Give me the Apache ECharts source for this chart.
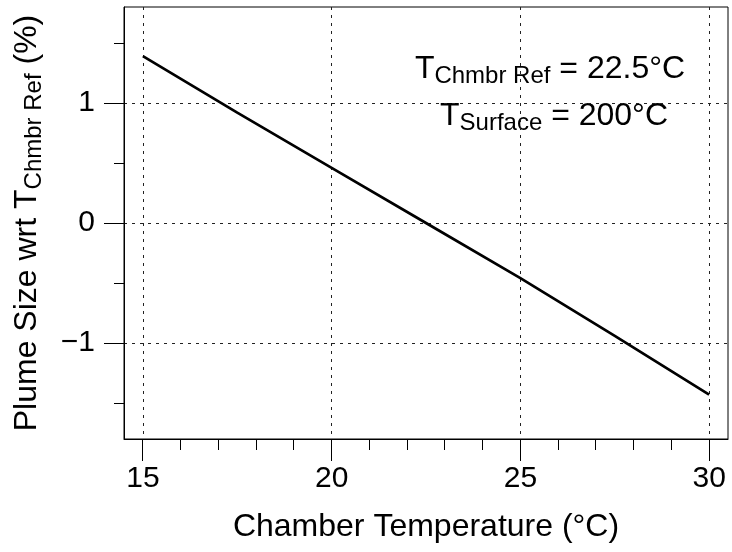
<!DOCTYPE html>
<html style="height: 100%">
<head>
<meta charset="UTF-8" />
<title>Plume size vs chamber temperature</title>
<style>
html, body { margin: 0; padding: 0; background: #ffffff; }
#chartBox { width: 732px; height: 552px; }
</style>
</head>
<body>
	<div id="chartBox"></div>

	<script src="https://cdn.jsdelivr.net/npm/echarts@6/dist/echarts.min.js"></script>
	<script>
		// data
		var chamberTemp = [15, 17.5, 20, 22.5, 25, 27.5, 30];
		var plumeSize = [1.39, 0.92, 0.46, 0, -0.46, -0.94, -1.43];

		var xMajorTicks = [15, 20, 25, 30];
		var xMinorTicks = [16, 17, 18, 19, 21, 22, 23, 24, 26, 27, 28, 29];
		var yMajorTicks = [-1, 0, 1];
		var yMinorTicks = [-1.5, -0.5, 0.5, 1.5];

		var fontName = 'Liberation Sans';
		var tickFont = 30;
		var bigFont = 32;
		var subFont = 24;

		// R style range, 4% padding
		var xMin = 14.5, xMax = 30.5;
		var yMin = -1.8, yMax = 1.8;

		var myChart = echarts.init(document.getElementById('chartBox'));

		var lineData = [];
		for (var i = 0; i < chamberTemp.length; i++) {
			lineData.push([chamberTemp[i], plumeSize[i]]);
		}

		// tick marks: [x, y, length]
		var xTickData = [], yTickData = [];
		xMajorTicks.forEach(function (v) { xTickData.push([v, yMin, 22]); });
		xMinorTicks.forEach(function (v) { xTickData.push([v, yMin, 11]); });
		yMajorTicks.forEach(function (v) { yTickData.push([xMin, v, 20]); });
		yMinorTicks.forEach(function (v) { yTickData.push([xMin, v, 10]); });

		function crisp(p) { return Math.round(p - 0.5) + 0.5; }

		var dotted = { color: '#222', width: 1, type: [3, 5] };

		var richText = {
			m: { fontFamily: fontName, fontSize: bigFont, color: '#000' },
			s: { fontFamily: fontName, fontSize: subFont, color: '#000', padding: [14, 0, 0, 0] }
		};

		option = {
			backgroundColor: '#ffffff',
			animation: false,
			grid: {
				left: 124,
				top: 7,
				right: 4,
				bottom: 113,
				show: true,
				borderColor: '#000',
				borderWidth: 1
			},
			xAxis: {
				type: 'value',
				position: 'bottom',
				min: xMin,
				max: xMax,
				name: 'Chamber Temperature (°C)',
				nameLocation: 'middle',
				nameGap: 72,
				nameTextStyle: { fontFamily: fontName, fontSize: bigFont, color: '#000' },
				axisLine: { show: true, onZero: false, lineStyle: { color: '#000', width: 1 } },
				axisTick: { show: false, customValues: xMajorTicks },
				axisLabel: { customValues: xMajorTicks, margin: 25, fontFamily: fontName, fontSize: tickFont, color: '#000' },
				splitLine: { show: true, lineStyle: dotted }
			},
			yAxis: {
				type: 'value',
				position: 'left',
				min: yMin,
				max: yMax,
				name: '{m|Plume Size wrt T}{s|Chmbr Ref}{m| (%)}',
				nameLocation: 'middle',
				nameRotate: 90,
				nameGap: 78,
				nameTextStyle: { fontFamily: fontName, fontSize: bigFont, color: '#000', rich: richText },
				axisLine: { show: true, onZero: false, lineStyle: { color: '#000', width: 1 } },
				axisTick: { show: false, customValues: yMajorTicks },
				axisLabel: {
					customValues: yMajorTicks, margin: 29, fontFamily: fontName, fontSize: tickFont, color: '#000',
					formatter: function (v) { return v < 0 ? '\u2212' + Math.abs(v) : '' + v; }
				},
				splitLine: { show: true, lineStyle: dotted }
			},
			graphic: [{
				type: 'text',
				x: 550,
				y: 69,
				style: {
					text: '{m|T}{s|Chmbr Ref}{m| = 22.5°C}',
					rich: richText,
					align: 'center',
					verticalAlign: 'middle'
				}
			}, {
				type: 'text',
				x: 554,
				y: 116,
				style: {
					text: '{m|T}{s|Surface}{m| = 200°C}',
					rich: richText,
					align: 'center',
					verticalAlign: 'middle'
				}
			}],
			series: [{
				type: 'line',
				data: lineData,
				showSymbol: false,
				symbol: 'none',
				lineStyle: { color: '#000', width: 2.7 }
			}, {
				// ticks under the x axis
				type: 'custom',
				clip: false,
				silent: true,
				data: xTickData,
				renderItem: function (params, api) {
					var p = api.coord([api.value(0), api.value(1)]);
					var x = crisp(p[0]);
					return {
						type: 'line',
						shape: { x1: x, y1: p[1], x2: x, y2: p[1] + api.value(2) },
						style: { stroke: '#000', lineWidth: 1 }
					};
				}
			}, {
				// ticks left of the y axis
				type: 'custom',
				clip: false,
				silent: true,
				data: yTickData,
				renderItem: function (params, api) {
					var p = api.coord([api.value(0), api.value(1)]);
					var y = crisp(p[1]);
					return {
						type: 'line',
						shape: { x1: p[0], y1: y, x2: p[0] - api.value(2), y2: y },
						style: { stroke: '#000', lineWidth: 1 }
					};
				}
			}]
		};
		myChart.setOption(option);
	</script>
</body>
</html>
